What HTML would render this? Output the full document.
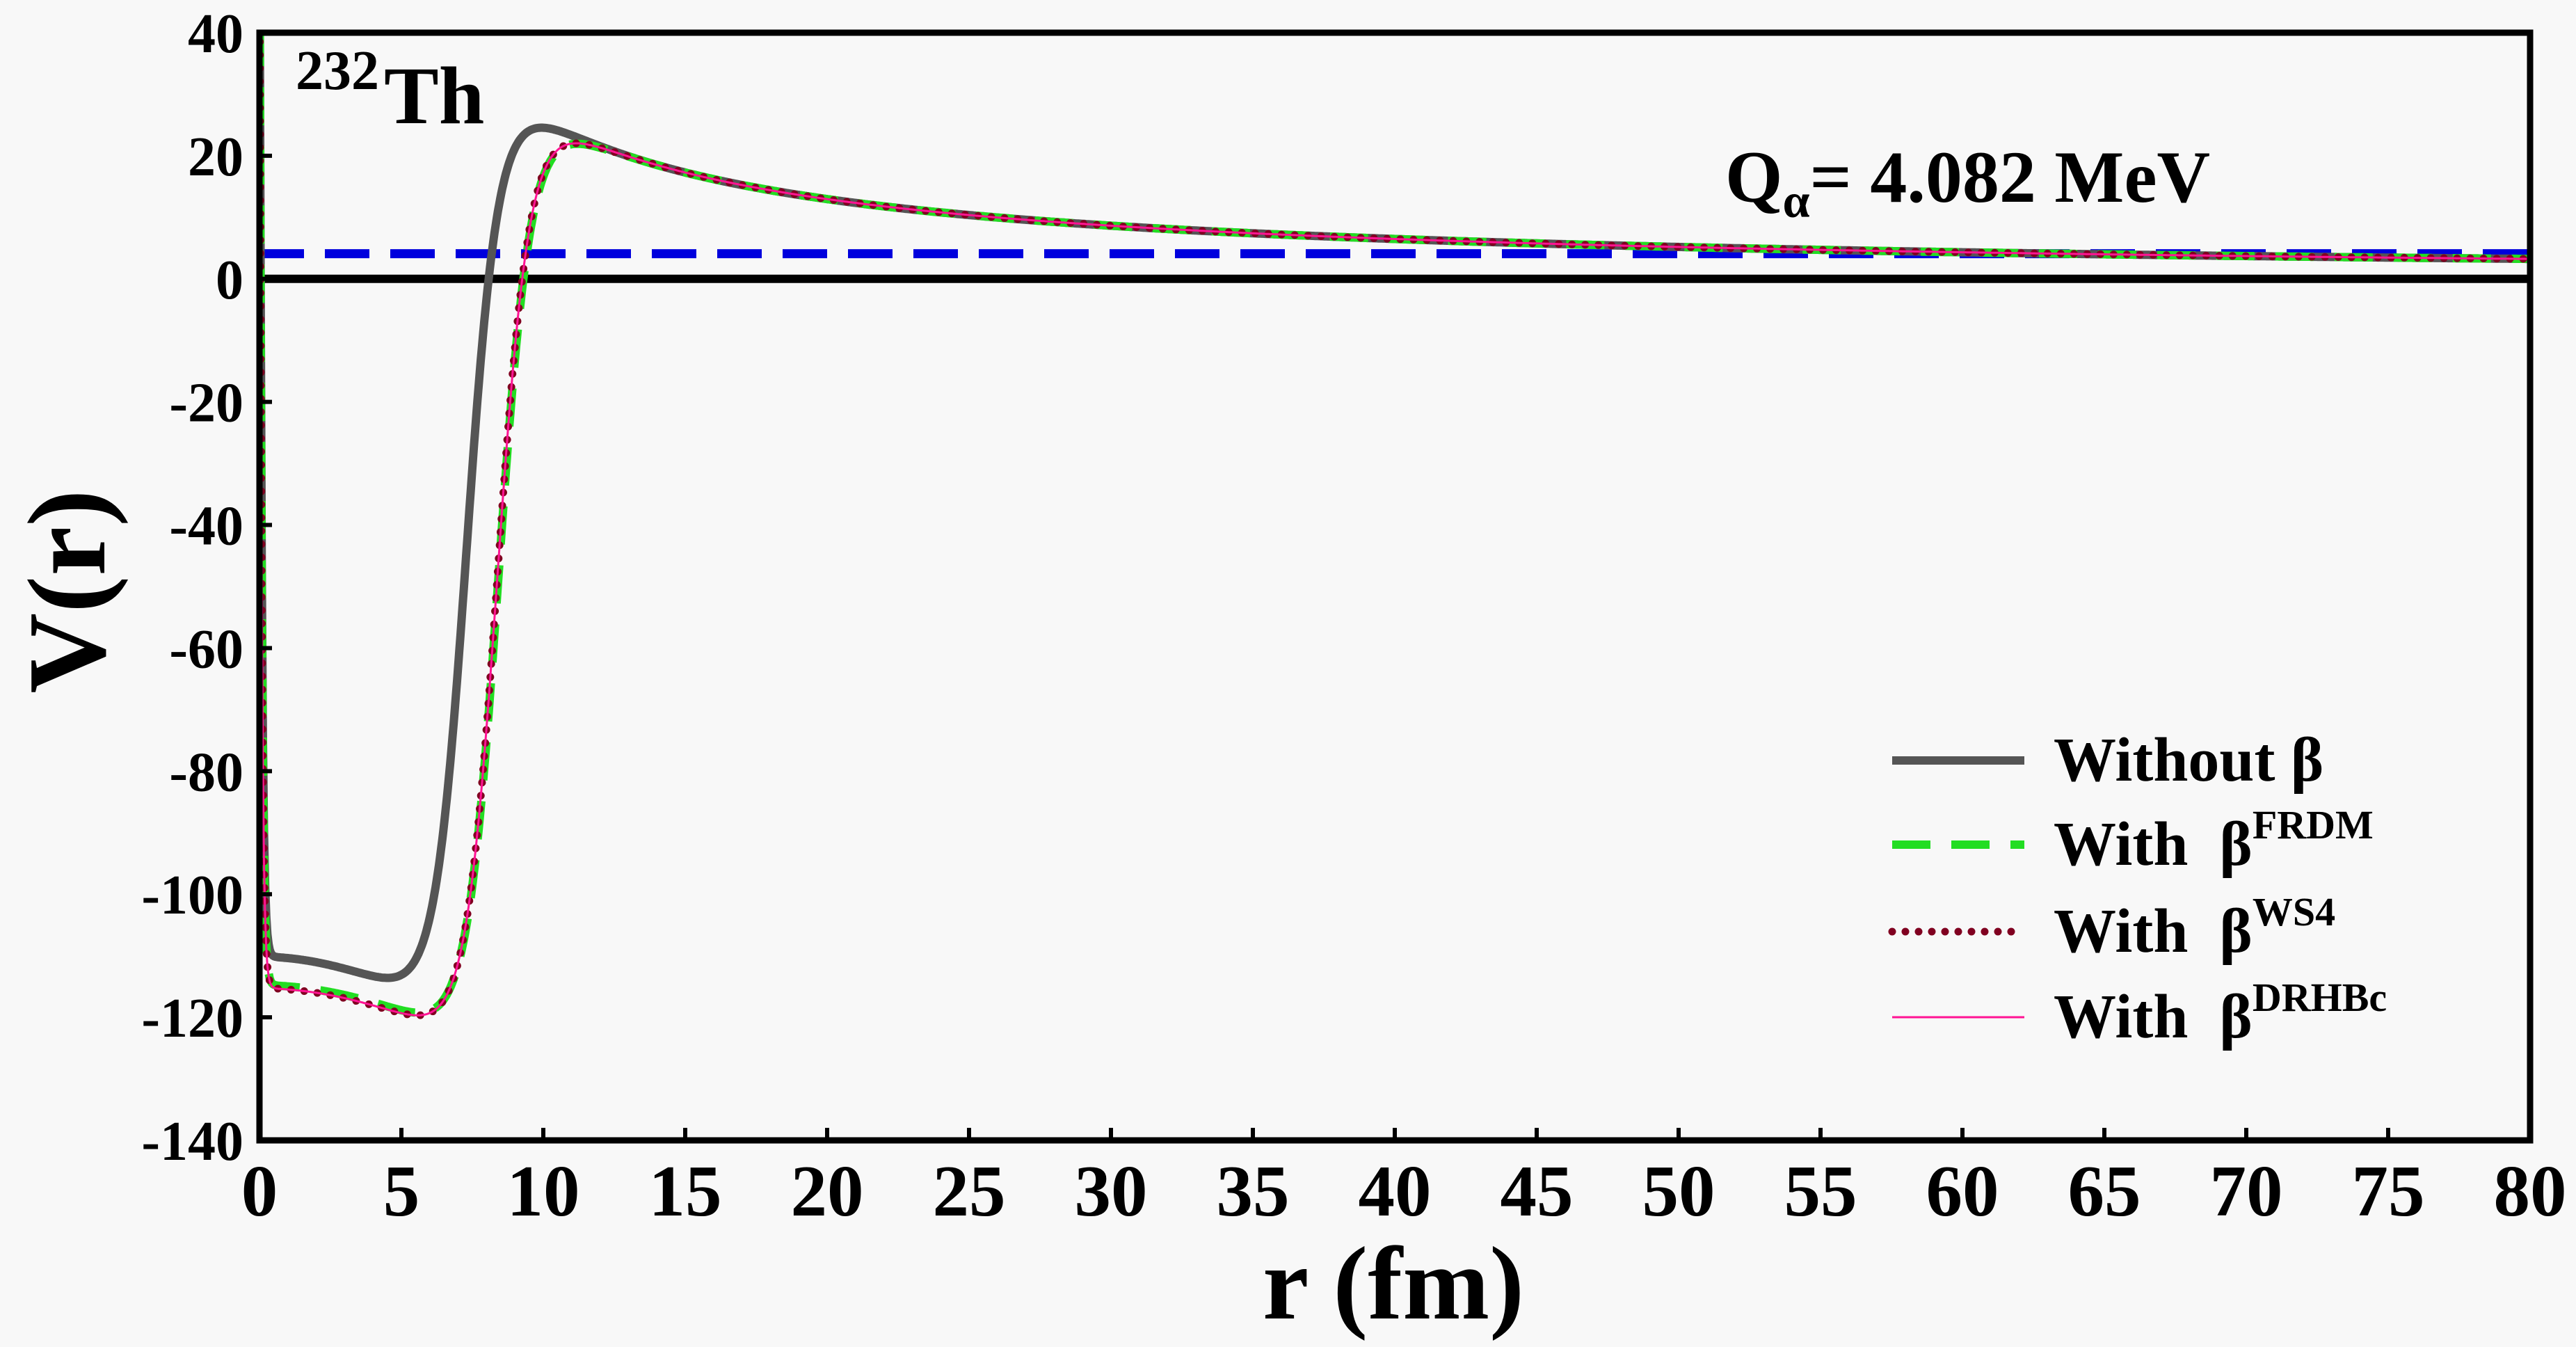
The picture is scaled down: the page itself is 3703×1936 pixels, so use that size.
<!DOCTYPE html>
<html><head><meta charset="utf-8"><style>
html,body{margin:0;padding:0;background:#f8f8f8;}
svg{display:block;font-family:"Liberation Serif",serif;font-weight:bold;}
</style></head><body>
<svg id="s" width="3703" height="1936" xmlns="http://www.w3.org/2000/svg">
<rect width="3703" height="1936" fill="#f8f8f8"/>
<defs><clipPath id="c"><rect x="373" y="47" width="3264" height="1592"/></clipPath></defs>
<g id="series" clip-path="url(#c)"></g>
<g id="axes"></g>
<text x="425" y="128" font-size="80">232</text>
<text x="552" y="177" font-size="118">Th</text>
<text x="2480" y="290" font-size="106">Q<tspan font-size="70" dy="22">α</tspan><tspan dy="-22">= 4.082 MeV</tspan></text>
<text transform="translate(150,850) rotate(-90)" text-anchor="middle" font-size="160">V(r)</text>
<text x="2003" y="1895" text-anchor="middle" font-size="150">r (fm)</text>
<g font-size="90">
<line x1="2720" y1="1093" x2="2910" y2="1093" stroke="#555" stroke-width="12"/>
<text x="2952" y="1122">Without β</text>
<line x1="2720" y1="1214" x2="2910" y2="1214" stroke="#22dd22" stroke-width="12" stroke-dasharray="55 30"/>
<text x="2952" y="1243">With&#160;&#160;β<tspan font-size="58" dy="-38">FRDM</tspan></text>
<line x1="2720" y1="1339" x2="2910" y2="1339" stroke="#800020" stroke-width="11" stroke-dasharray="0 19" stroke-linecap="round"/>
<text x="2952" y="1368">With&#160;&#160;β<tspan font-size="58" dy="-38">WS4</tspan></text>
<line x1="2720" y1="1462" x2="2910" y2="1462" stroke="#ff1493" stroke-width="3"/>
<text x="2952" y="1491">With&#160;&#160;β<tspan font-size="58" dy="-38">DRHBc</tspan></text>
</g>
</svg>
<script>
var L=373,R=3637,T=47,B=1639;
function X(r){return L+r*(R-L)/80;}
function Y(v){return T+(40-v)*(B-T)/180;}
var NS="http://www.w3.org/2000/svg";
function el(p,n,a){var e=document.createElementNS(NS,n);for(var k in a)e.setAttribute(k,a[k]);p.appendChild(e);return e;}
function pot(V0,Rn,a,Rc){return function(r){var vc=r>Rc?259.2/r:259.2/(2*Rc)*(3-r*r/(Rc*Rc));return -V0/(1+Math.exp((r-Rn)/a))+vc+200*Math.exp(-r/0.07);};}
function path(f){var d="";for(var i=0;i<=2000;i++){var r=i*0.04;if(r<=0)r=0.0001;var v=f(r);d+=(i?"L":"M")+X(r).toFixed(1)+","+Y(Math.min(v,60)).toFixed(1);}return d;}
var s=document.getElementById("series");
el(s,"line",{x1:L,y1:Y(0),x2:R,y2:Y(0),stroke:"#000","stroke-width":12});
el(s,"line",{x1:L,y1:Y(4.082),x2:R,y2:Y(4.082),stroke:"#0000dd","stroke-width":13,"stroke-dasharray":"64 30"});
var g=pot(157,7.3,0.57,8.3), d=pot(158,8.42,0.57,9), d2=pot(158.5,8.38,0.57,9);
el(s,"path",{d:path(g),fill:"none",stroke:"#555","stroke-width":12});
el(s,"path",{d:path(d),fill:"none",stroke:"#22dd22","stroke-width":12,"stroke-dasharray":"55 30"});
el(s,"path",{d:path(d2),fill:"none",stroke:"#800020","stroke-width":11,"stroke-dasharray":"0 19","stroke-linecap":"round"});
el(s,"path",{d:path(d2),fill:"none",stroke:"#ff1493","stroke-width":3});
var ax=document.getElementById("axes");
el(ax,"rect",{x:L,y:T,width:R-L,height:B-T,fill:"none",stroke:"#000","stroke-width":9});
for(var v=-140;v<=40;v+=20){var y=Y(v);el(ax,"line",{x1:L,y1:y,x2:L+18,y2:y,stroke:"#000","stroke-width":6});var t=el(ax,"text",{x:350,y:y+28,"text-anchor":"end","font-size":80});t.textContent=v;}
for(var r=0;r<=80;r+=5){var x=X(r);el(ax,"line",{x1:x,y1:B,x2:x,y2:B-18,stroke:"#000","stroke-width":6});var t=el(ax,"text",{x:x,y:1747,"text-anchor":"middle","font-size":105});t.textContent=r;}
</script>
</body></html>
